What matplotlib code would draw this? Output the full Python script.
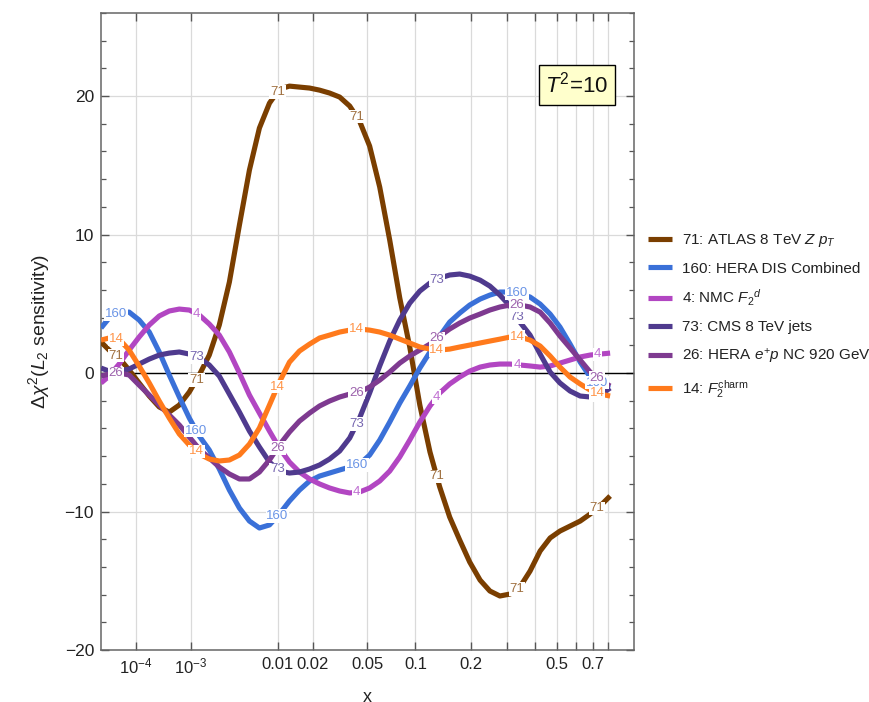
import numpy as np
import matplotlib
matplotlib.use("Agg")
import matplotlib.pyplot as plt
from matplotlib.ticker import FixedLocator, FixedFormatter, MultipleLocator, NullLocator

plt.rcParams['font.family'] = ['Liberation Sans', 'DejaVu Sans']
plt.rcParams['mathtext.fontset'] = 'custom'
plt.rcParams['mathtext.rm'] = 'Liberation Sans'
plt.rcParams['mathtext.it'] = 'Liberation Sans:italic'
plt.rcParams['mathtext.bf'] = 'Liberation Sans:bold'

# ---------------- data ----------------
x = [1.0e-5, 1.90e-5, 3.80e-5, 6.98e-5, 1.20e-4, 1.97e-4, 3.07e-4, 4.62e-4, 6.75e-4, 9.59e-4,
     1.33e-3, 1.81e-3, 2.42e-3, 3.19e-3, 4.14e-3, 5.30e-3, 6.70e-3, 8.40e-3, 0.0104, 0.0128,
     0.0156, 0.0189, 0.0227, 0.0271, 0.0322, 0.0380, 0.0445, 0.0520, 0.0605, 0.0700,
     0.0807, 0.0926, 0.106, 0.121, 0.137, 0.155, 0.175, 0.197, 0.222, 0.248,
     0.277, 0.309, 0.343, 0.381, 0.422, 0.466, 0.513, 0.565, 0.621, 0.681, 0.745, 0.814]

y71 = [2.24, 1.66, 1.08, 0.22, -0.72, -1.66, -2.45, -2.82, -2.31, -1.37,
       -0.14, 1.30, 3.47, 6.57, 10.69, 14.66, 17.69, 19.49, 20.51, 20.72,
       20.65, 20.58, 20.43, 20.22, 19.93, 19.28, 18.19, 16.39, 13.43, 9.60,
       5.42, 1.88, -2.31, -5.70, -8.23, -10.40, -12.06, -13.65, -14.95, -15.74,
       -16.10, -15.96, -15.45, -14.30, -12.85, -11.91, -11.41, -11.05, -10.69, -10.18, -9.60, -8.88]

y160 = [3.25, 3.97, 4.40, 4.40, 3.83, 2.96, 1.52, -0.14, -1.73, -3.25,
        -4.55, -5.56, -6.93, -8.45, -9.75, -10.69, -11.19, -10.97, -10.18, -9.24,
        -8.45, -7.80, -7.44, -7.22, -7.00, -6.79, -6.57, -5.92, -4.84, -3.54,
        -2.17, -0.94, 0.36, 1.52, 2.67, 3.68, 4.33, 4.91, 5.34, 5.63,
        5.85, 5.85, 5.70, 5.49, 4.98, 4.26, 3.32, 2.09, 0.79, -0.29, -0.87, -1.08]

y4 = [-0.72, -0.22, 0.65, 1.66, 2.60, 3.47, 4.12, 4.48, 4.62, 4.55,
      4.19, 3.54, 2.74, 1.52, 0.00, -1.59, -2.89, -4.19, -5.42, -6.43,
      -7.15, -7.65, -8.01, -8.30, -8.52, -8.66, -8.59, -8.30, -7.80, -7.08,
      -6.06, -4.84, -3.54, -2.38, -1.44, -0.79, -0.29, 0.14, 0.43, 0.58,
      0.65, 0.65, 0.58, 0.51, 0.43, 0.51, 0.72, 0.94, 1.16, 1.30, 1.37, 1.44]

y73 = [0.36, 0.14, 0.14, 0.29, 0.65, 1.01, 1.30, 1.44, 1.52, 1.37,
       1.08, 0.58, -0.22, -1.52, -2.82, -4.19, -5.34, -6.43, -7.08, -7.22,
       -7.15, -6.93, -6.64, -6.21, -5.63, -4.69, -3.25, -1.44, 0.51, 2.31,
       3.83, 5.05, 5.92, 6.50, 6.86, 7.08, 7.15, 7.00, 6.71, 6.28,
       5.63, 4.84, 3.68, 2.74, 1.37, 0.07, -0.72, -1.30, -1.66, -1.73, -1.59, -1.08]

y26 = [-0.22, -0.07, 0.00, -0.14, -0.87, -1.59, -2.31, -3.03, -3.75, -4.62,
       -5.49, -6.14, -6.79, -7.29, -7.65, -7.65, -7.15, -6.28, -5.20, -4.26,
       -3.47, -2.89, -2.38, -2.02, -1.73, -1.52, -1.37, -1.01, -0.51, 0.07,
       0.72, 1.23, 1.66, 2.09, 2.67, 3.18, 3.61, 3.97, 4.26, 4.55,
       4.77, 4.91, 4.91, 4.77, 4.40, 3.61, 2.67, 1.81, 0.94, 0.07, -0.51, -0.94]

y14 = [2.38, 2.53, 2.45, 1.66, 0.51, -0.72, -2.02, -3.25, -4.40, -5.20,
       -5.85, -6.21, -6.35, -6.28, -5.92, -5.13, -3.97, -2.31, -0.65, 0.79,
       1.59, 2.09, 2.53, 2.74, 2.96, 3.10, 3.18, 3.10, 2.96, 2.74,
       2.45, 2.17, 1.88, 1.73, 1.66, 1.73, 1.88, 2.02, 2.17, 2.31,
       2.45, 2.60, 2.60, 2.38, 1.95, 1.23, 0.43, -0.29, -0.79, -1.23, -1.52, -1.66]

ids = ['71', '160', '4', '73', '26', '14']
names = [r'71: ATLAS 8 TeV $Z$ $p_T$',
         '160: HERA DIS Combined',
         r'4: NMC $F_2{}^{d}$',
         '73: CMS 8 TeV jets',
         r'26: HERA $e^{+}p$ NC 920 GeV',
         r'14: $F_2^{\mathrm{charm}}$']
series = [y71, y160, y4, y73, y26, y14]
colors = ['#7a3e00', '#3a70d8', '#b246c2', '#4f3a8e', '#7e3a90', '#ff7a1c']
label_colors = ['#a07040', '#6a94e6', '#c070d2', '#7666b0', '#9c62ac', '#ff9448']

# positions (x) where the curve labels sit, and which of them each curve uses
label_x = [3.12e-5, 1.209e-3, 9.98e-3, 0.04247, 0.13203, 0.33256, 0.72509]
label_use = [[0, 1, 2, 3, 4, 5, 6],
             [0, 1, 2, 3, 5, 6],
             [1, 3, 4, 5, 6],
             [1, 2, 3, 4, 5, 6],
             [0, 2, 3, 4, 5, 6],
             [0, 1, 2, 3, 4, 5, 6]]

xticks = [1e-4, 1e-3, 0.01, 0.02, 0.05, 0.1, 0.2, 0.3, 0.4, 0.5, 0.6, 0.7, 0.8]
xticklabels = [r'$10^{-4}$', r'$10^{-3}$', '0.01', '0.02', '0.05', '0.1', '0.2',
               '', '', '0.5', '', '0.7', '']

# ---------------- figure ----------------
W, H = 870, 702
fig = plt.figure(figsize=(W / 100, H / 100), dpi=100)
ax = fig.add_axes([101 / W, 1 - 650 / H, 533 / W, 637 / H])

fwd = lambda v: np.power(np.clip(v, 1e-12, None), 0.2)
inv = lambda v: np.power(v, 5.0)
ax.set_xscale('function', functions=(fwd, inv))
ax.set_xlim(1e-5, 1)
ax.set_ylim(-20, 26)

xa = np.array(x)
handles = []
for yv, c, nm in zip(series, colors, names):
    h, = ax.plot(xa, yv, color=c, lw=3.7, solid_joinstyle='round',
                 solid_capstyle='butt', zorder=3, label=nm)
    handles.append(h)

for yv, lc, sid, use in zip(series, label_colors, ids, label_use):
    for i in use:
        lx = label_x[i]
        ly = np.interp(lx ** 0.2, xa ** 0.2, yv)
        ax.text(lx, ly, sid, color=lc, fontsize=9.5, ha='center', va='center',
                zorder=6,
                bbox=dict(boxstyle='square,pad=0.06', fc='white', ec='none'))

ax.axhline(0, color='black', lw=1.0, zorder=2)

ax.xaxis.set_major_locator(FixedLocator(xticks))
ax.xaxis.set_major_formatter(FixedFormatter(xticklabels))
ax.xaxis.set_minor_locator(NullLocator())
ax.yaxis.set_major_locator(MultipleLocator(10))
ax.yaxis.set_minor_locator(MultipleLocator(2))

ax.grid(True, which='major', color='#dadada', lw=0.9)
ax.set_axisbelow(True)

ax.tick_params(which='both', direction='in', top=True, right=True,
               colors='#555555', labelcolor='#222222', labelsize=12.5)
ax.tick_params(axis='x', labelsize=12)
ax.tick_params(which='major', length=6, width=1.0)
ax.tick_params(which='minor', length=3.5, width=0.9)
ax.tick_params(axis='x', pad=5)
ax.tick_params(axis='y', pad=5)
for sp in ax.spines.values():
    sp.set_color('#666666')
    sp.set_linewidth(1.1)

ax.set_ylabel(r'$\Delta\chi^2$($L_2$ sensitivity)', fontsize=14, color='#222222', labelpad=9)
ax.set_xlabel('x', fontsize=13, color='#222222', labelpad=9)

ax.text(0.893, 0.887, r'$T^2$=10', transform=ax.transAxes, fontsize=16,
        ha='center', va='center', color='#111111', zorder=7,
        bbox=dict(boxstyle='square,pad=0.3', fc='#ffffcc', ec='black', lw=1.0))

ax.legend(handles=handles, loc='center left',
          bbox_to_anchor=(648 / W, 1 - 316 / H), bbox_transform=fig.transFigure,
          frameon=False, fontsize=11, handlelength=1.6, handletextpad=0.6,
          labelspacing=0.8, borderaxespad=0, borderpad=0, labelcolor='#222222')

fig.savefig('out.png', dpi=100)
